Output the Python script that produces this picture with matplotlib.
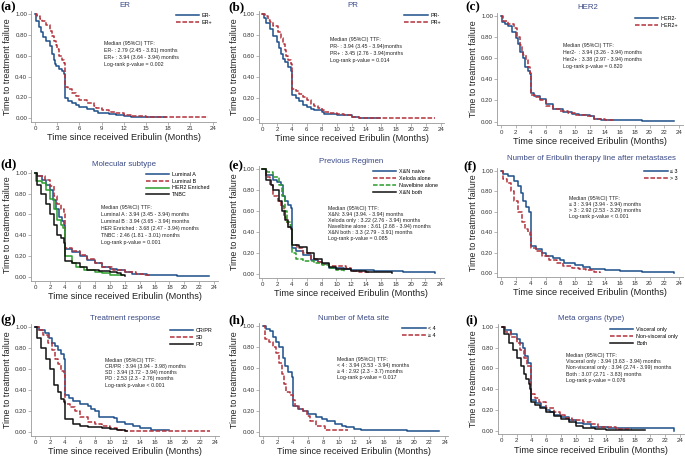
import matplotlib
matplotlib.use('Agg')
import matplotlib.pyplot as plt

plt.rcParams['font.family'] = ['Liberation Sans', 'DejaVu Sans']

BLUE = '#1d4e89'
RED = '#b3303a'
GREEN = '#2a9d2a'
BLACK = '#111111'
DASH = (0, (3, 1.2))

# ---------------- (a) ER ----------------
er_neg_t = [0, 0.2, 0.5, 0.8, 1.1, 1.5, 2.0, 2.3, 2.5, 2.7, 2.9, 3.3, 3.6, 3.85, 4.0, 4.5, 5.0, 5.5, 6.0, 7.0, 8.0, 8.5, 10.0, 11.0, 12.0, 13.0, 17.7]
er_neg_s = [1.0, 0.93, 0.88, 0.83, 0.78, 0.74, 0.69, 0.62, 0.56, 0.52, 0.50, 0.47, 0.45, 0.42, 0.19, 0.17, 0.15, 0.13, 0.11, 0.09, 0.07, 0.055, 0.04, 0.03, 0.02, 0.01, 0.01]
er_pos_t = [0, 0.3, 0.7, 1.0, 1.5, 2.0, 2.3, 2.6, 2.8, 3.0, 3.3, 3.6, 3.9, 4.0, 4.5, 5.0, 5.5, 6.0, 7.0, 8.0, 8.3, 9.0, 10.0, 11.0, 12.0, 13.0, 15.0, 23.3]
er_pos_s = [1.0, 0.98, 0.95, 0.93, 0.89, 0.84, 0.79, 0.74, 0.70, 0.66, 0.60, 0.56, 0.53, 0.30, 0.28, 0.24, 0.21, 0.18, 0.15, 0.12, 0.10, 0.08, 0.06, 0.05, 0.03, 0.02, 0.01, 0.01]

# ---------------- (b) PR ----------------
pr_neg_t = [0, 0.2, 0.5, 1.0, 1.5, 2.0, 2.3, 2.5, 2.8, 3.0, 3.5, 3.9, 4.0, 4.5, 5.0, 5.5, 6.0, 6.5, 7.0, 8.0, 8.3, 10.0, 11.0, 12.0, 13.0, 15.8]
pr_neg_s = [1.0, 0.96, 0.92, 0.86, 0.79, 0.74, 0.68, 0.62, 0.57, 0.55, 0.50, 0.46, 0.23, 0.20, 0.17, 0.14, 0.12, 0.10, 0.09, 0.07, 0.05, 0.045, 0.04, 0.02, 0.01, 0.01]
pr_pos_t = [0, 0.3, 0.7, 1.0, 1.5, 2.1, 2.5, 2.8, 3.0, 3.2, 3.5, 3.9, 4.0, 4.5, 5.0, 5.5, 6.0, 6.5, 7.0, 7.5, 8.0, 8.3, 9.0, 10.0, 11.0, 12.0, 13.0, 15.0, 23.3]
pr_pos_s = [1.0, 0.98, 0.95, 0.93, 0.89, 0.83, 0.77, 0.72, 0.66, 0.60, 0.56, 0.53, 0.29, 0.27, 0.24, 0.21, 0.18, 0.15, 0.13, 0.11, 0.09, 0.07, 0.06, 0.05, 0.04, 0.025, 0.015, 0.01, 0.01]

# ---------------- (c) HER2 ----------------
her2_neg_t = [0, 0.2, 0.6, 1.0, 1.5, 2.0, 2.3, 2.6, 2.9, 3.2, 3.6, 3.9, 4.0, 4.5, 5.2, 6.0, 7.0, 8.3, 9.5, 10.5, 12.0, 12.5, 13.5, 15.0, 19.0, 23.3]
her2_neg_s = [1.0, 0.94, 0.92, 0.90, 0.85, 0.79, 0.73, 0.66, 0.60, 0.52, 0.48, 0.45, 0.27, 0.24, 0.21, 0.17, 0.12, 0.09, 0.07, 0.06, 0.05, 0.03, 0.02, 0.015, 0.01, 0.01]
her2_pos_t = [0, 0.3, 1.0, 1.8, 2.2, 2.5, 2.8, 3.0, 3.4, 3.7, 3.9, 4.0, 4.6, 5.3, 6.0, 7.0, 8.0, 9.0, 10.0, 11.5, 12.5, 14.0, 15.2]
her2_pos_s = [1.0, 0.95, 0.92, 0.88, 0.80, 0.72, 0.66, 0.63, 0.58, 0.52, 0.46, 0.25, 0.23, 0.20, 0.15, 0.12, 0.10, 0.08, 0.06, 0.05, 0.03, 0.02, 0.01]

# ---------------- (d) Molecular subtype ----------------
lum_a_t = [0, 0.3, 1.0, 1.5, 2.0, 2.4, 2.8, 3.2, 3.6, 3.9, 4.0, 5.0, 6.0, 7.0, 8.0, 9.0, 10.0, 11.0, 12.0, 13.0, 15.0, 19.0, 23.3]
lum_a_s = [1.0, 0.97, 0.93, 0.88, 0.83, 0.74, 0.65, 0.58, 0.54, 0.50, 0.27, 0.24, 0.20, 0.16, 0.13, 0.10, 0.08, 0.07, 0.05, 0.03, 0.02, 0.01, 0.01]
lum_b_t = [0, 0.3, 1.3, 2.0, 2.5, 3.0, 3.5, 3.9, 4.0, 5.0, 6.0, 7.0, 8.0, 9.0, 10.5, 12.0, 13.5, 14.5, 15.2]
lum_b_s = [1.0, 0.97, 0.93, 0.87, 0.78, 0.70, 0.65, 0.60, 0.28, 0.25, 0.21, 0.17, 0.13, 0.10, 0.07, 0.05, 0.03, 0.02, 0.01]
her2_enr_t = [0, 0.2, 1.0, 1.5, 2.0, 2.6, 3.0, 3.5, 3.8, 4.0, 5.0, 5.5, 6.5, 8.0, 9.0, 10.0, 11.8]
her2_enr_s = [1.0, 0.92, 0.90, 0.83, 0.75, 0.65, 0.55, 0.50, 0.47, 0.20, 0.13, 0.10, 0.07, 0.05, 0.04, 0.02, 0.02]
tnbc_t = [0, 0.3, 0.8, 1.5, 2.0, 2.5, 2.9, 3.5, 3.9, 4.0, 5.0, 6.0, 7.0, 8.5, 10.0, 11.0, 11.5, 12.0]
tnbc_s = [1.0, 0.88, 0.80, 0.70, 0.60, 0.50, 0.40, 0.37, 0.33, 0.15, 0.13, 0.10, 0.07, 0.06, 0.05, 0.04, 0.02, 0.01]

# ---------------- (e) Previous regimen ----------------
xn_naive_t = [0, 0.5, 1.5, 2.0, 2.5, 2.8, 3.0, 3.5, 3.9, 4.0, 4.5, 5.5, 6.5, 7.5, 8.0, 9.0, 11.0, 12.0, 15.0, 19.0, 23.3]
xn_naive_s = [1.0, 0.95, 0.90, 0.88, 0.85, 0.75, 0.70, 0.66, 0.63, 0.25, 0.22, 0.18, 0.14, 0.12, 0.10, 0.06, 0.05, 0.04, 0.03, 0.02, 0.01]
xeloda_t = [0, 0.5, 1.0, 1.5, 2.1, 2.5, 2.9, 3.2, 3.5, 3.9, 4.0, 4.7, 5.5, 6.5, 7.5, 8.0, 9.0, 11.3, 12.0, 13.0, 14.5]
xeloda_s = [1.0, 0.93, 0.85, 0.75, 0.70, 0.65, 0.55, 0.50, 0.45, 0.43, 0.28, 0.25, 0.20, 0.15, 0.12, 0.10, 0.08, 0.06, 0.03, 0.02, 0.02]
navel_t = [0, 0.7, 1.5, 2.3, 2.7, 3.0, 3.3, 3.7, 3.9, 4.0, 4.5, 5.5, 7.0, 8.0, 9.0, 10.0, 11.0, 11.2]
navel_s = [1.0, 0.97, 0.93, 0.85, 0.75, 0.60, 0.50, 0.47, 0.45, 0.20, 0.15, 0.13, 0.11, 0.09, 0.06, 0.04, 0.02, 0.02]
xn_both_t = [0, 0.5, 1.2, 1.5, 2.2, 2.6, 3.0, 3.5, 3.9, 4.0, 5.0, 6.0, 7.0, 8.0, 9.0, 10.0, 12.0, 14.0, 17.5]
xn_both_s = [1.0, 0.90, 0.85, 0.80, 0.70, 0.60, 0.52, 0.45, 0.43, 0.28, 0.26, 0.20, 0.15, 0.11, 0.07, 0.05, 0.03, 0.02, 0.01]

# ---------------- (f) Eribulin therapy line ----------------
line_le3_t = [0, 0.3, 1.0, 1.8, 2.3, 2.7, 3.0, 3.4, 3.8, 4.0, 4.7, 5.5, 6.0, 7.0, 8.0, 8.5, 10.0, 11.0, 12.0, 14.0, 16.0, 19.0, 23.3]
line_le3_s = [1.0, 0.97, 0.95, 0.90, 0.85, 0.78, 0.70, 0.65, 0.60, 0.27, 0.24, 0.20, 0.17, 0.15, 0.13, 0.10, 0.08, 0.06, 0.04, 0.03, 0.02, 0.01, 0.003]
line_gt3_t = [0, 0.3, 0.8, 1.3, 1.8, 2.3, 2.8, 3.2, 3.6, 3.9, 4.0, 4.7, 5.5, 6.5, 7.5, 8.3, 9.5, 10.5, 11.5, 12.5, 13.3]
line_gt3_s = [1.0, 0.92, 0.88, 0.80, 0.70, 0.60, 0.50, 0.43, 0.40, 0.37, 0.25, 0.22, 0.17, 0.13, 0.10, 0.07, 0.05, 0.04, 0.03, 0.01, 0.005]

# ---------------- (g) Treatment response ----------------
crpr_t = [0, 0.5, 1.3, 1.8, 2.3, 2.7, 3.0, 3.4, 3.8, 4.0, 4.5, 5.0, 6.0, 7.0, 7.5, 8.0, 8.5, 10.5, 11.0, 12.0, 13.0, 14.0, 15.5, 17.8]
crpr_s = [1.0, 0.97, 0.95, 0.90, 0.85, 0.82, 0.78, 0.75, 0.70, 0.36, 0.33, 0.30, 0.27, 0.25, 0.22, 0.20, 0.15, 0.14, 0.10, 0.08, 0.06, 0.04, 0.02, 0.02]
sd_t = [0, 0.5, 1.0, 1.7, 2.2, 2.6, 3.0, 3.5, 3.9, 4.0, 4.7, 5.3, 6.0, 7.0, 8.0, 9.0, 10.0, 11.0, 12.0, 23.3]
sd_s = [1.0, 0.97, 0.93, 0.85, 0.78, 0.70, 0.65, 0.58, 0.55, 0.27, 0.24, 0.20, 0.15, 0.10, 0.08, 0.06, 0.04, 0.02, 0.01, 0.01]
pd_t = [0, 0.3, 0.8, 1.4, 2.0, 2.5, 3.0, 3.5, 3.8, 4.0, 5.0, 6.0, 7.0, 9.0, 10.0, 11.0, 12.0, 12.3]
pd_s = [1.0, 0.90, 0.80, 0.70, 0.60, 0.45, 0.38, 0.32, 0.29, 0.13, 0.08, 0.06, 0.05, 0.04, 0.03, 0.02, 0.01, 0.01]

# ---------------- (h) Number of meta site ----------------
meta_lt4_t = [0, 0.4, 1.0, 1.3, 1.8, 2.2, 2.7, 3.0, 3.4, 3.8, 4.0, 4.7, 5.3, 6.0, 7.0, 7.8, 8.5, 9.5, 10.5, 11.0, 12.0, 13.0, 16.0, 19.0, 23.3]
meta_lt4_s = [1.0, 0.97, 0.95, 0.90, 0.85, 0.80, 0.70, 0.62, 0.57, 0.52, 0.25, 0.22, 0.20, 0.17, 0.14, 0.12, 0.10, 0.08, 0.06, 0.05, 0.03, 0.02, 0.015, 0.01, 0.005]
meta_ge4_t = [0, 0.3, 0.8, 1.3, 1.8, 2.1, 2.5, 2.8, 3.1, 3.6, 4.0, 4.3, 4.8, 5.3, 5.8, 6.3, 7.0, 8.2, 11.3]
meta_ge4_s = [1.0, 0.88, 0.85, 0.80, 0.75, 0.65, 0.55, 0.45, 0.38, 0.35, 0.30, 0.25, 0.22, 0.20, 0.15, 0.10, 0.06, 0.02, 0.02]

# ---------------- (i) Meta organs ----------------
visceral_t = [0, 0.5, 1.3, 2.0, 2.5, 2.8, 3.2, 3.6, 3.9, 4.0, 4.6, 5.3, 6.0, 6.5, 7.0, 8.0, 9.0, 10.0, 11.0, 12.0, 14.3, 23.2]
visceral_s = [1.0, 0.97, 0.93, 0.88, 0.85, 0.80, 0.72, 0.65, 0.60, 0.30, 0.27, 0.23, 0.20, 0.18, 0.15, 0.13, 0.10, 0.07, 0.06, 0.04, 0.03, 0.0]
nonvisc_t = [0, 0.5, 1.3, 2.0, 2.5, 3.0, 3.4, 3.9, 4.0, 4.5, 5.0, 6.0, 7.0, 7.8, 8.5, 9.5, 11.0, 12.0, 13.0, 15.4, 17.6]
nonvisc_s = [1.0, 0.95, 0.90, 0.85, 0.78, 0.70, 0.62, 0.58, 0.35, 0.32, 0.28, 0.22, 0.18, 0.15, 0.12, 0.10, 0.08, 0.06, 0.04, 0.02, 0.02]
both_t = [0, 0.3, 1.0, 1.5, 2.0, 2.6, 3.0, 3.3, 3.7, 3.85, 3.9, 4.5, 5.2, 6.0, 7.0, 8.0, 9.0, 10.0, 11.0, 12.5, 14.0, 19.3]
both_s = [1.0, 0.93, 0.85, 0.78, 0.70, 0.62, 0.55, 0.50, 0.45, 0.40, 0.28, 0.25, 0.22, 0.18, 0.14, 0.11, 0.08, 0.05, 0.03, 0.02, 0.01, 0.01]

# annotation texts
txt_a = "Median (95%CI) TTF:\nER- : 2.79 (2.45 - 3.81) months\nER+ : 3.94 (3.64 - 3.94) months\nLog-rank p-value = 0.002"
txt_b = "Median (95%CI) TTF:\nPR- : 3.94 (3.45 - 3.94)months\nPR+ : 3.45 (2.76 - 3.94)months\nLog-rank p-value = 0.014"
txt_c = "Median (95%CI) TTF:\nHer2-  : 3.94 (3.26 - 3.94) months\nHer2+ : 3.38 (2.97 - 3.94) months\nLog-rank p-value = 0.820"
txt_d = ("Median (95%CI) TTF:\nLuminal A : 3.94 (3.45 - 3.94) months\nLuminal B : 3.94 (3.65 - 3.94) months\n"
         "HER Enriched : 3.68 (2.47 - 3.94) months\nTNBC : 2.46 (1.81 - 3.01) months\nLog-rank p-value = 0.001")
txt_e = ("Median (95%CI) TTF:\nX&N: 3.94 (3.94. - 3.94) months\nXeloda only : 3.22 (2.76 - 3.94) months\n"
         "Navelbine alone : 3.61 (2.68 - 3.94) months\nX&N both : 3.3 (2.79 - 3.91) months\nLog-rank p-value = 0.085")
txt_f = "Median (95%CI) TTF:\n≤ 3 : 3.94 (3.94 - 3.94) months\n> 3 : 2.92 (2.53 - 3.29) months\nLog-rank p-value < 0.001"
txt_g = ("Median (95%CI) TTF:\nCR/PR : 3.94 (3.94 - 3.98) months\nSD : 3.94 (3.72 - 3.94) months\n"
         "PD : 2.53 (2.3 - 2.76) months\nLog-rank p-value < 0.001")
txt_h = "Median (95%CI) TTF:\n< 4 : 3.94 (3.53 - 3.94) months\n≥ 4 : 2.92 (2.3 - 3.7) months\nLog-rank p-value = 0.017"
txt_i = ("Median (95%CI) TTF:\nVisceral only : 3.94 (3.63 - 3.94) months\nNon-visceral only : 3.94 (2.74 - 3.99) months\n"
         "Both : 3.07 (2.71 - 3.83) months\nLog-rank p-value = 0.076")

panels = [
    dict(letter='(a)', title='ER', box=(35, 212.7, 14, 118.3), xstep=3,
         curves=[('ER-', er_neg_t, er_neg_s, BLUE, '-'), ('ER+', er_pos_t, er_pos_s, RED, DASH)],
         text=txt_a, tpos=(9.3, 0.74), ls=1.5, leg=(19.0, 1.01), tt=(125, 5.7), lt=(0, 7)),
    dict(letter='(b)', title='PR', box=(262.3, 440.7, 14.3, 119.3), xstep=2,
         curves=[('PR-', pr_neg_t, pr_neg_s, BLUE, '-'), ('PR+', pr_pos_t, pr_pos_s, RED, DASH)],
         text=txt_b, tpos=(9.1, 0.78), ls=1.5, leg=(19.1, 1.01), tt=(353, 5.7), lt=(228, 7)),
    dict(letter='(c)', title='HER2', box=(501, 679.3, 15.7, 121.7), xstep=2,
         curves=[('HER2-', her2_neg_t, her2_neg_s, BLUE, '-'), ('HER2+', her2_pos_t, her2_pos_s, RED, DASH)],
         text=txt_c, tpos=(8.4, 0.74), ls=1.5, leg=(18.0, 1.0), tt=(588, 7.3), lt=(465, 7)),
    dict(letter='(d)', title='Molecular subtype', box=(35, 214.3, 172.7, 277), xstep=2,
         curves=[('Luminal A', lum_a_t, lum_a_s, BLUE, '-'), ('Luminal B', lum_b_t, lum_b_s, RED, DASH),
                 ('HER2 Enriched', her2_enr_t, her2_enr_s, GREEN, '-'), ('TNBC', tnbc_t, tnbc_s, BLACK, '-')],
         text=txt_d, tpos=(8.8, 0.69), ls=1.5, leg=(14.8, 1.01), tt=(124, 164), lt=(0, 164)),
    dict(letter='(e)', title='Previous Regimen', box=(262.3, 440.3, 169.3, 274.3), xstep=2,
         curves=[('X&N naive', xn_naive_t, xn_naive_s, BLUE, '-'), ('Xeloda alone', xeloda_t, xeloda_s, RED, DASH),
                 ('Navelbine alone', navel_t, navel_s, GREEN, DASH), ('X&N both', xn_both_t, xn_both_s, BLACK, '-')],
         text=txt_e, tpos=(8.85, 0.65), ls=1.25, leg=(14.9, 1.0), tt=(351, 161.7), lt=(228, 166)),
    dict(letter='(f)', title='Number of Eribulin therapy line after metastases', box=(501, 679.3, 170.7, 273.3), xstep=2,
         curves=[('≤ 3', line_le3_t, line_le3_s, BLUE, '-'), ('> 3', line_gt3_t, line_gt3_s, RED, DASH)],
         text=txt_f, tpos=(9.1, 0.75), ls=1.25, leg=(19.3, 1.02), tt=(591, 158.3), lt=(463, 166)),
    dict(letter='(g)', title='Treatment response', box=(35, 215, 327.3, 432.3), xstep=2,
         curves=[('CR/PR', crpr_t, crpr_s, BLUE, '-'), ('SD', sd_t, sd_s, RED, DASH), ('PD', pd_t, pd_s, BLACK, '-')],
         text=txt_g, tpos=(9.3, 0.71), ls=1.3, leg=(18.0, 0.99), tt=(125, 318.7), lt=(0, 320)),
    dict(letter='(h)', title='Number of Meta site', box=(262.7, 444.7, 326, 432), xstep=2,
         curves=[('< 4', meta_lt4_t, meta_lt4_s, BLUE, '-'), ('≥ 4', meta_ge4_t, meta_ge4_s, RED, DASH)],
         text=txt_h, tpos=(9.85, 0.71), ls=1.3, leg=(18.4, 1.0), tt=(354, 318), lt=(228, 320)),
    dict(letter='(i)', title='Meta organs (type)', box=(501.7, 680, 327, 430.7), xstep=2,
         curves=[('Visceral only', visceral_t, visceral_s, BLUE, '-'), ('Non-visceral only', nonvisc_t, nonvisc_s, RED, DASH),
                 ('Both', both_t, both_s, BLACK, '-')],
         text=txt_i, tpos=(8.65, 0.75), ls=1.3, leg=(14.6, 1.0), tt=(591, 318), lt=(465, 320)),
]

W, H = 685, 457
XMIN, XMAX = -0.5, 24.5
YMIN, YMAX = -0.035, 1.03

fig = plt.figure(figsize=(W / 100, H / 100), dpi=100)

for p in panels:
    x0, x24, y1, y0 = p['box']
    sx = (x24 - x0) / 24.0
    sy = (y0 - y1)
    left = x0 + XMIN * sx
    right = x0 + XMAX * sx
    top = y0 - YMAX * sy
    bottom = y0 - YMIN * sy
    ax = fig.add_axes([left / W, 1 - bottom / H, (right - left) / W, (bottom - top) / H])

    for label, t, s, color, ls in p['curves']:
        ax.step(t, s, where='post', color=color, linestyle=ls, lw=1.1, label=label)

    ax.set_xlim(XMIN, XMAX)
    ax.set_ylim(YMIN, YMAX)
    ax.set_xticks(range(0, 25, p['xstep']))
    ax.set_yticks([0, 0.2, 0.4, 0.6, 0.8, 1.0])
    ax.set_yticklabels(['0.00', '0.20', '0.40', '0.60', '0.80', '1.00'])
    for side in ['top', 'right']:
        ax.spines[side].set_visible(False)
    for side in ['left', 'bottom']:
        ax.spines[side].set_color('#999999')
        ax.spines[side].set_linewidth(0.6)
    ax.tick_params(length=2, width=0.5, pad=1, labelsize=4.4, colors='#999999', labelcolor='#333333')
    ax.set_xlabel('Time since received Eribulin (Months)', fontsize=6.6, labelpad=1.5, color='#222222')
    ax.set_ylabel('Time to treatment failure', fontsize=6.4, labelpad=2.5, color='#222222')

    ax.text(p['tpos'][0], p['tpos'][1], p['text'], fontsize=3.8, va='top', ha='left',
            linespacing=p['ls'], color='#222222')
    ax.legend(loc='upper left', bbox_to_anchor=p['leg'], bbox_transform=ax.transData, frameon=False,
              fontsize=3.9, handlelength=4.3, handletextpad=0.5, borderpad=0, borderaxespad=0,
              labelspacing=0.35)

    fig.text(p['tt'][0] / W, 1 - p['tt'][1] / H, p['title'], fontsize=5.7, color='#3a4a86',
             ha='center', va='center')
    fig.text(p['lt'][0] / W, 1 - p['lt'][1] / H, p['letter'], fontsize=9.5, fontweight='bold',
             family=['Liberation Serif', 'DejaVu Serif'], ha='left', va='center')

fig.savefig('out.png', dpi=100)
